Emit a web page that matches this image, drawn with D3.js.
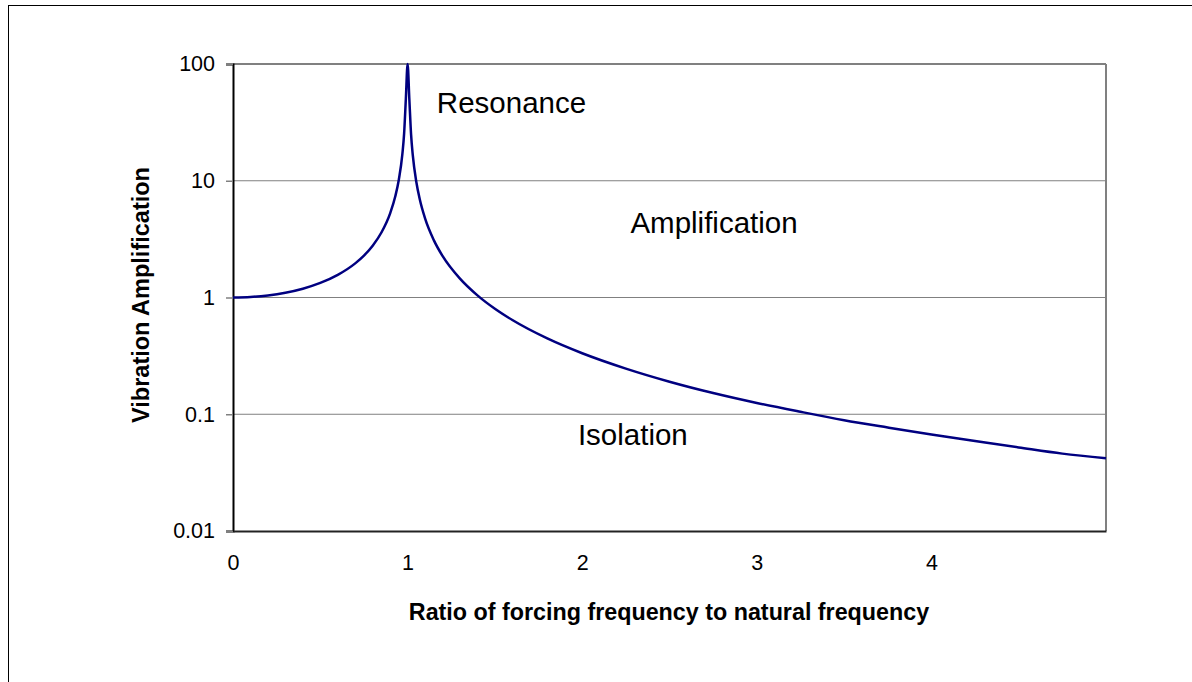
<!DOCTYPE html>
<html>
<head>
<meta charset="utf-8">
<script src="https://d3js.org/d3.v7.min.js"></script>
<style>
  body { margin: 0; background: #fff; }
  svg text { font-family: "Liberation Sans", Arial, sans-serif; fill: #000; }
</style>
</head>
<body>
<svg id="chart" width="1192" height="682"></svg>
<script>
// frequency ratio r and the amplification
const ratios = [0, 0.1, 0.2, 0.3, 0.4, 0.5, 0.6, 0.7, 0.75, 0.8, 0.85, 0.9, 0.93, 0.95, 0.97, 0.98, 0.99, 1.0,
  1.01, 1.02, 1.03, 1.05, 1.07, 1.1, 1.15, 1.2, 1.3, 1.4, 1.5, 1.6, 1.8, 2.0, 2.25, 2.5, 2.75,
  3.0, 3.25, 3.5, 3.75, 4.0, 4.25, 4.5, 4.75, 5.0]
const amplification = [1, 1.01, 1.042, 1.099, 1.19, 1.333, 1.563, 1.961, 2.286, 2.778, 3.604, 5.263, 7.40, 10.26, 16.9, 25.3, 50.3, 100,
  49.8, 24.8, 16.4, 9.76, 6.90, 4.76, 3.10, 2.27, 1.449, 1.042, 0.80, 0.641, 0.446, 0.333, 0.246, 0.19, 0.152,
  0.125, 0.105, 0.089, 0.077, 0.067, 0.059, 0.052, 0.046, 0.042]
const xTicks = [0, 1, 2, 3, 4]
const yTicks = [0.01, 0.1, 1, 10, 100]
const regionLabels = ["Resonance", "Amplification", "Isolation"]
const regionPos = [[1.595, 44], [2.755, 4.2], [2.29, 0.063]]

const svg = d3.select("#chart")
const margin = {top: 64, right: 86, bottom: 151, left: 233}
const width = 1192 - margin.left - margin.right
const height = 682 - margin.top - margin.bottom

const x = d3.scaleLinear().domain([0, 5]).range([0, width])
const y = d3.scaleLog().domain([0.01, 100]).range([height, 0])

// outer frame
svg.append("rect").attr("x", 8.5).attr("y", 5.5).attr("width", 1200).attr("height", 700)
  .attr("fill", "none").attr("stroke", "#000").attr("stroke-width", 1)

const g = svg.append("g").attr("transform", "translate(" + margin.left + "," + margin.top + ")")

// gridlines
g.selectAll(".grid").data(yTicks.slice(1, -1)).enter().append("line")
  .attr("x1", 0).attr("x2", width)
  .attr("y1", d => y(d)).attr("y2", d => y(d))
  .attr("stroke", "#808080").attr("stroke-width", 1)

// plot border
g.append("line").attr("x1", 0).attr("x2", width).attr("y1", 0).attr("y2", 0)
  .attr("stroke", "#808080").attr("stroke-width", 2)
g.append("line").attr("x1", width).attr("x2", width).attr("y1", 0).attr("y2", height)
  .attr("stroke", "#808080").attr("stroke-width", 2)

// y axis
const yAxis = g.append("g")
  .call(d3.axisLeft(y).tickValues(yTicks).tickFormat(d => d3.format("~g")(d)).tickSize(7).tickPadding(11))
yAxis.select(".domain").attr("stroke", "#000").attr("stroke-width", 2)
yAxis.selectAll(".tick line").attr("stroke", "#808080").attr("stroke-width", 1.5)
yAxis.selectAll("text").style("font-size", "21.5px")

// x axis
const xAxis = g.append("g").attr("transform", "translate(0," + height + ")")
  .call(d3.axisBottom(x).tickValues(xTicks).tickFormat(d3.format("d")).tickSize(0).tickPadding(24))
xAxis.select(".domain").attr("stroke", "#222").attr("stroke-width", 2)
xAxis.selectAll("text").style("font-size", "21.5px")

// curve
const line = d3.line().x((d, i) => x(ratios[i])).y(d => y(d)).curve(d3.curveMonotoneX)
g.append("path").datum(amplification)
  .attr("fill", "none").attr("stroke", "#000080").attr("stroke-width", 2.5)
  .attr("d", line)

// region labels
g.selectAll(".region").data(regionLabels).enter().append("text")
  .attr("x", (d, i) => x(regionPos[i][0]))
  .attr("y", (d, i) => y(regionPos[i][1]))
  .attr("text-anchor", "middle").attr("dominant-baseline", "middle")
  .style("font-size", "29.5px").text(d => d)

// axis titles
svg.append("text").attr("x", 669).attr("y", 620)
  .attr("text-anchor", "middle").style("font-size", "23.3px").style("font-weight", "bold")
  .text("Ratio of forcing frequency to natural frequency")
svg.append("text").attr("transform", "translate(149,295) rotate(-90)")
  .attr("text-anchor", "middle").style("font-size", "23.5px").style("font-weight", "bold")
  .text("Vibration Amplification")
</script>
</body>
</html>
